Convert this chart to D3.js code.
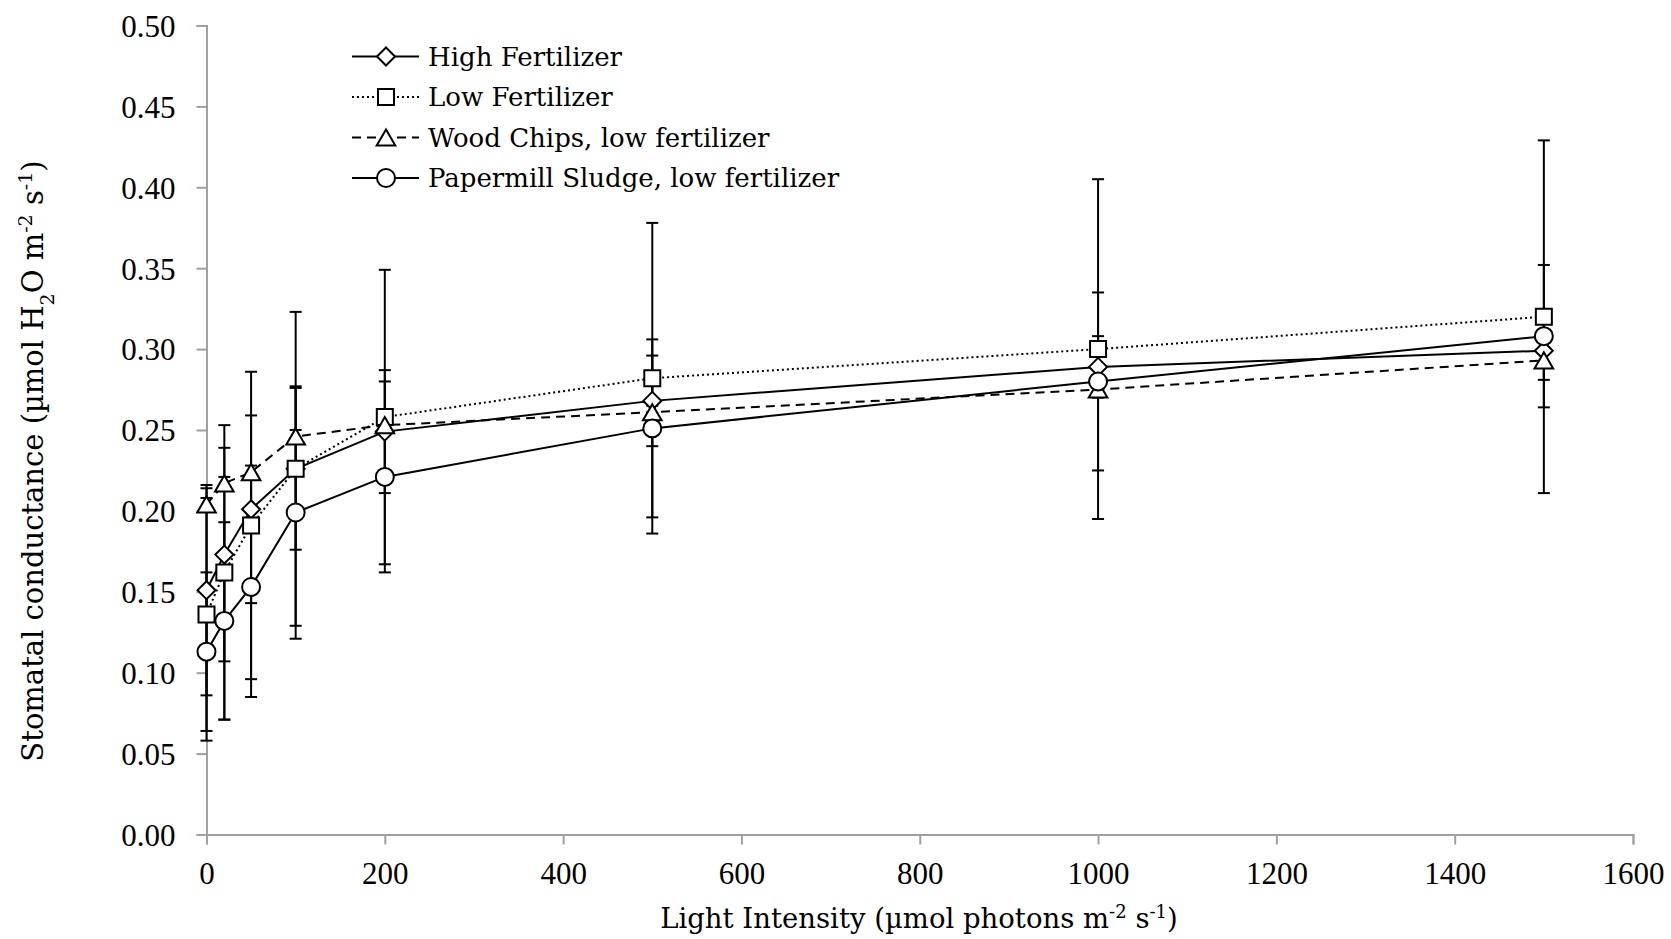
<!DOCTYPE html>
<html>
<head>
<meta charset="utf-8">
<script src="https://cdn.jsdelivr.net/npm/d3@7"></script>
<style>
  html, body { margin: 0; padding: 0; background: #fff; }
  svg { display: block; }
  .tick text { font-family: "Liberation Serif", serif; font-size: 31px; fill: #000; }
  .axis path, .axis line { stroke: #a0a0a0; stroke-width: 2px; }
  .legend text, .title { font-family: "DejaVu Serif", serif; font-size: 26px; fill: #000; }
  .title { font-size: 27.5px; }
</style>
</head>
<body>
<div id="chart"></div>
<script>
// light levels (µmol photons m-2 s-1)
var lightLevels = [0, 20, 50, 100, 200, 500, 1000, 1500];

// stomatal conductance means and error bar half-widths
var highFert      = [0.151, 0.173, 0.201, 0.226, 0.249, 0.268, 0.289, 0.299];
var highFertErr   = [0.065, 0.066, 0.058, 0.050, 0.038, 0.028, 0.019, 0.018];
var lowFert       = [0.136, 0.162, 0.191, 0.226, 0.258, 0.282, 0.300, 0.320];
var lowFertErr    = [0.078, 0.091, 0.095, 0.097, 0.091, 0.096, 0.105, 0.109];
var woodChips     = [0.204, 0.217, 0.224, 0.246, 0.253, 0.261, 0.275, 0.293];
var woodChipsErr  = [0.004, 0.004, 0.004, 0.004, 0.004, 0.004, 0.004, 0.004];
var sludge        = [0.113, 0.132, 0.153, 0.199, 0.221, 0.251, 0.280, 0.308];
var sludgeErr     = [0.049, 0.061, 0.068, 0.078, 0.059, 0.055, 0.055, 0.044];

var seriesNames = ['High Fertilizer', 'Low Fertilizer', 'Wood Chips, low fertilizer', 'Papermill Sludge, low fertilizer'];
var xTicks = [0, 200, 400, 600, 800, 1000, 1200, 1400, 1600];
var yTicks = [0, 0.05, 0.10, 0.15, 0.20, 0.25, 0.30, 0.35, 0.40, 0.45, 0.50];

var W = 1671, H = 939;
var svg = d3.select('#chart').append('svg').attr('width', W).attr('height', H);

var x = d3.scaleLinear().domain([0, 1600]).range([206.5, 1633]);
var y = d3.scaleLinear().domain([0, 0.5]).range([834.5, 25.5]);

// axes
var xAxisG = svg.append('g').attr('class', 'axis')
  .attr('transform', 'translate(0,' + y(0) + ')')
  .call(d3.axisBottom(x).tickValues(xTicks).tickSize(10).tickPadding(12).tickFormat(d3.format('d')));
xAxisG.selectAll('.tick text').attr('dy', '0.9em');
var yAxisG = svg.append('g').attr('class', 'axis')
  .attr('transform', 'translate(' + x(0) + ',0)')
  .call(d3.axisLeft(y).tickValues(yTicks).tickSize(10).tickPadding(21).tickFormat(d3.format('.2f')));
yAxisG.selectAll('.tick text').attr('dy', '0.35em');

// symbols
function marker(kind) {
  if (kind === 'diamond') return d3.symbol(d3.symbolDiamond2, 206)();
  if (kind === 'square') return d3.symbol(d3.symbolSquare, 256)();
  if (kind === 'triangle') return d3.symbol(d3.symbolTriangle, 150)();
  return d3.symbol(d3.symbolCircle, 254)();
}
var triShift = Math.sqrt(150 / (3 * Math.sqrt(3))) / 2;

var series = [
  { name: seriesNames[0], vals: highFert, errs: highFertErr, mk: 'diamond', dash: null },
  { name: seriesNames[1], vals: lowFert, errs: lowFertErr, mk: 'square', dash: '2,3' },
  { name: seriesNames[2], vals: woodChips, errs: woodChipsErr, mk: 'triangle', dash: '9,6' },
  { name: seriesNames[3], vals: sludge, errs: sludgeErr, mk: 'circle', dash: null }
];

var plot = svg.append('g');
var capW = 6;

// error bars first so markers sit on top
series.forEach(function(s) {
  var g = plot.append('g').attr('stroke', '#000').attr('stroke-width', 2);
  lightLevels.forEach(function(lx, i) {
    var cx = x(lx), hi = y(s.vals[i] + s.errs[i]), lo = y(s.vals[i] - s.errs[i]);
    g.append('line').attr('x1', cx).attr('x2', cx).attr('y1', hi).attr('y2', lo);
    g.append('line').attr('x1', cx - capW).attr('x2', cx + capW).attr('y1', hi).attr('y2', hi);
    g.append('line').attr('x1', cx - capW).attr('x2', cx + capW).attr('y1', lo).attr('y2', lo);
  });
});

var line = d3.line().x(function(d) { return x(d[0]); }).y(function(d) { return y(d[1]); });

series.forEach(function(s) {
  var pts = lightLevels.map(function(lx, i) { return [lx, s.vals[i]]; });
  plot.append('path').datum(pts)
    .attr('d', line)
    .attr('fill', 'none')
    .attr('stroke', '#000')
    .attr('stroke-width', 2)
    .attr('stroke-dasharray', s.dash);
});

function drawMarker(g, kind, cx, cy) {
  g.append('path')
    .attr('d', marker(kind))
    .attr('transform', 'translate(' + cx + ',' + (cy + (kind === 'triangle' ? triShift : 0)) + ')')
    .attr('fill', '#fff')
    .attr('stroke', '#000')
    .attr('stroke-width', 2);
}

series.forEach(function(s) {
  lightLevels.forEach(function(lx, i) {
    drawMarker(plot, s.mk, x(lx), y(s.vals[i]));
  });
});

// legend
var legend = svg.append('g').attr('class', 'legend');
series.forEach(function(s, i) {
  var ly = 56.5 + i * 40.5;
  legend.append('line')
    .attr('x1', 352).attr('x2', 419).attr('y1', ly).attr('y2', ly)
    .attr('stroke', '#000').attr('stroke-width', 2)
    .attr('stroke-dasharray', s.dash);
  drawMarker(legend, s.mk, 386, ly);
  legend.append('text').attr('x', 428).attr('y', ly).attr('dy', '0.35em').text(s.name);
});

// axis titles
var xt = svg.append('text').attr('class', 'title')
  .attr('x', 919).attr('y', 928).attr('text-anchor', 'middle');
xt.append('tspan').text('Light Intensity (µmol photons m');
xt.append('tspan').attr('baseline-shift', 'super').attr('font-size', '18px').text('-2');
xt.append('tspan').text(' s');
xt.append('tspan').attr('baseline-shift', 'super').attr('font-size', '18px').text('-1');
xt.append('tspan').text(')');

var yt = svg.append('text').attr('class', 'title')
  .attr('transform', 'translate(43,461) rotate(-90)')
  .attr('text-anchor', 'middle')
  .style('font-size', '29px');
yt.append('tspan').text('Stomatal conductance (µmol H');
yt.append('tspan').attr('baseline-shift', 'sub').attr('font-size', '19px').text('2');
yt.append('tspan').text('O m');
yt.append('tspan').attr('baseline-shift', 'super').attr('font-size', '19px').text('-2');
yt.append('tspan').text(' s');
yt.append('tspan').attr('baseline-shift', 'super').attr('font-size', '19px').text('-1');
yt.append('tspan').text(')');
</script>
</body>
</html>
